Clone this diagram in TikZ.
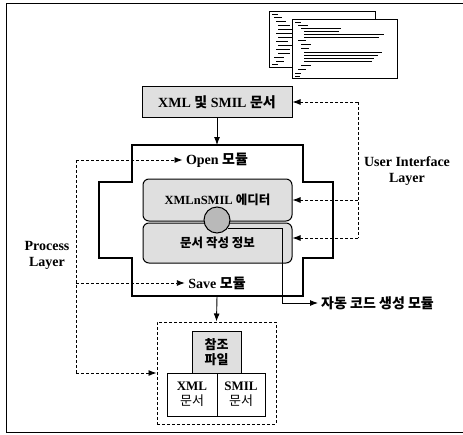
\documentclass[tikz,border=0pt]{standalone}
\usepackage{fontspec}
\setmainfont{Liberation Serif}
\newfontfamily\kr{Noto Sans CJK KR}
\usepackage{tikz}
\usetikzlibrary{arrows.meta, positioning, calc}

\begin{document}
\begin{tikzpicture}[x=1pt, y=-1pt, font=\fontsize{14}{16}\selectfont\bfseries,
    box/.style={draw, line width=1pt, fill=gray!25, inner sep=0pt},
    rbox/.style={draw, line width=1pt, fill=gray!25, rounded corners=6pt, inner sep=0pt,
        minimum width=149pt, font=\fontsize{12.5}{14}\selectfont\bfseries},
    cell/.style={draw, line width=0.8pt, inner sep=0pt, align=center,
        font=\fontsize{13}{15}\selectfont\bfseries},
    arr/.style={-{Latex[length=8pt,width=6pt]}, line width=0.9pt},
    dsh/.style={dash pattern=on 3pt off 2pt, line width=0.9pt},
    lbl/.style={align=center, inner sep=0pt}]
\useasboundingbox (0,0) rectangle (463,434);
% frame
\draw[line width=1pt] (463,3) -- (6,3) -- (6,432) -- (463,432);
% xml source pages
\draw[line width=0.8pt, fill=white] (269,11) rectangle (375,67);
\foreach \y/\i/\l in {14/0/6, 17/2/8, 21/4/10, 25/6/12, 29/6/14, 33/4/16, 37/6/14,
    41/4/12, 45/6/16, 49/4/14, 53/6/12, 57/2/10, 61/4/8, 64/0/6}
  \draw[line width=0.6pt] (272+\i,\y) -- ++(\l,0);
\draw[line width=0.8pt, fill=white] (292,19) rectangle (397,78);
\foreach \y/\i/\l in {22/0/6, 25/3/10, 28/6/40, 31/9/35, 34/9/80, 37/9/75, 40/3/8,
    44/6/10, 48/6/8, 52/9/78, 55/9/74, 58/9/70, 61/9/68, 65/6/10, 69/3/8, 73/0/6, 76/0/5}
  \draw[line width=0.6pt] (295+\i,\y) -- ++(\l,0);
% source document
\node[box, minimum width=150pt, minimum height=31pt] (doc) at (217,102)
    {XML {\kr 및} SMIL {\kr 문서}};
% process module
\draw[line width=1.2pt] (132,145) -- (303,145) -- (303,182) -- (333,182) -- (333,258)
    -- (303,258) -- (303,296) -- (132,296) -- (132,258) -- (99,258) -- (99,182)
    -- (132,182) -- cycle;
\coordinate (crossN) at (217,145);
\coordinate (crossS) at (217,296);
\node (open) at (217,160) {Open {\kr 모듈}};
\node (save) at (217,283) {Save {\kr 모듈}};
\node[rbox, minimum height=42pt] (editor) at (217.5,200) {XMLnSMIL {\kr 에디터}};
\node[rbox, minimum height=40pt] (info) at (217.5,243) {\kr 문서 작성 정보};
\node[draw, circle, line width=1pt, fill=gray!55, minimum size=26pt, inner sep=0pt] (hub)
    at (217,220) {};
\draw[arr] (doc.south) -- (crossN);
% code generator
\node[anchor=west, inner sep=3pt] (gen) at (318,303) {\kr 자동 코드 생성 모듈};
\draw[arr] (hub.-38) -| ([xshift=-36pt]gen.west) -- (gen.west);
% user interface layer
\node[lbl] (uil) at (407,171) {User Interface\\Layer};
\coordinate (uiT) at (358,102);
\coordinate (uiB) at (358,238);
\draw[dsh] (uiT) -- (uiB);
\draw[dsh, arr] (uiT) -- (doc.east);
\draw[dsh, arr] (uiB |- editor.east) -- (editor.east);
\draw[dsh, arr] (uiB) -- (uiB -| info.east);
% output files
\node[draw, dsh, line width=1pt, minimum width=119pt, minimum height=102pt] (files)
    at (216.5,373) {};
\node[cell, fill=gray!25, minimum width=49pt, minimum height=42pt] (ref)
    at (216.5,352) {\kr 참조\\\kr 파일};
\node[cell, minimum width=50pt, minimum height=43pt] (xmld) at (192,394.5)
    {XML\\{\kr\mdseries 문서}};
\node[cell, minimum width=48pt, minimum height=43pt] (smild) at (241,394.5)
    {SMIL\\{\kr\mdseries 문서}};
\draw[arr] (crossS) -- (files.north);
% process layer
\node[lbl] (pl) at (47,255) {Process\\Layer};
\coordinate (plT) at (76,160);
\coordinate (plB) at (76,373);
\draw[dsh] (plT) -- (plB);
\draw[dsh, arr] (plT) -- (open.west);
\draw[dsh, arr] (plT |- save.west) -- (save.west);
\draw[dsh, arr] (plB) -- (files.west);
\end{tikzpicture}
\end{document}
